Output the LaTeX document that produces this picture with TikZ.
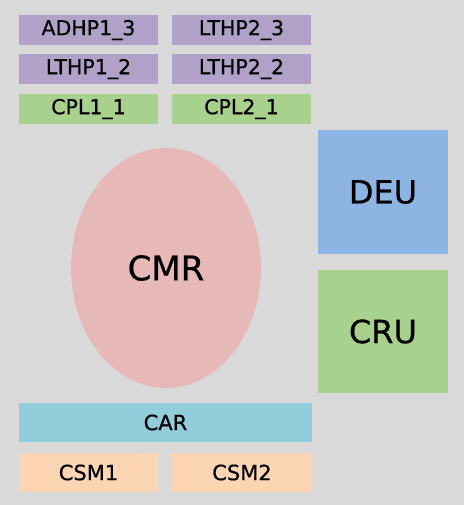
\documentclass[tikz,border=0pt]{standalone}
\usepackage{fontspec}
\setmainfont{DejaVu Sans}[FakeBold=0.6]
\usetikzlibrary{shapes.geometric}
\definecolor{bg}{HTML}{D9D9D9}
\definecolor{purp}{HTML}{B1A0C7}
\definecolor{grn}{HTML}{A9D18E}
\definecolor{blu}{HTML}{8EB4E3}
\definecolor{cyanb}{HTML}{92CDDC}
\definecolor{peach}{HTML}{FCD5B5}
\definecolor{pinkc}{HTML}{E6B9B8}
\begin{document}
\begin{tikzpicture}[x=1pt,y=-1pt,
  box/.style={minimum width=139pt,minimum height=30pt,inner sep=0pt,font=\fontsize{20.5}{22}\selectfont},
  low/.style={box,minimum height=39pt,font=\fontsize{21}{23}\selectfont},
  big/.style={minimum width=130pt,minimum height=124pt,inner sep=0pt,font=\fontsize{32}{36}\selectfont}]
\useasboundingbox[fill=bg] (0,0) rectangle (464,505);
\node[box,fill=purp] (adhp) at (88.5,30) {ADHP1\_3};
\node[box,fill=purp] (lthp23) at (241.5,30) {LTHP2\_3};
\node[box,fill=purp] (lthp12) at (88.5,69) {LTHP1\_2};
\node[box,fill=purp] (lthp22) at (241.5,69) {LTHP2\_2};
\node[box,fill=grn] (cpl1) at (88.5,109) {CPL1\_1};
\node[box,fill=grn] (cpl2) at (241.5,109) {CPL2\_1};
\node[ellipse,fill=pinkc,minimum width=190pt,minimum height=240pt,inner sep=0pt,font=\fontsize{34}{36}\selectfont] (cmr) at (166,268) {CMR};
\node[big,fill=blu] (deu) at (383,192) {DEU};
\node[big,fill=grn,minimum height=123pt] (cru) at (383,331.5) {CRU};
\node[low,fill=cyanb,minimum width=293pt] (car) at (165.5,422.5) {CAR};
\node[low,fill=peach] (csm1) at (88.5,472.5) {CSM1};
\node[low,fill=peach,minimum width=140pt] (csm2) at (242,472.5) {CSM2};
\end{tikzpicture}
\end{document}
